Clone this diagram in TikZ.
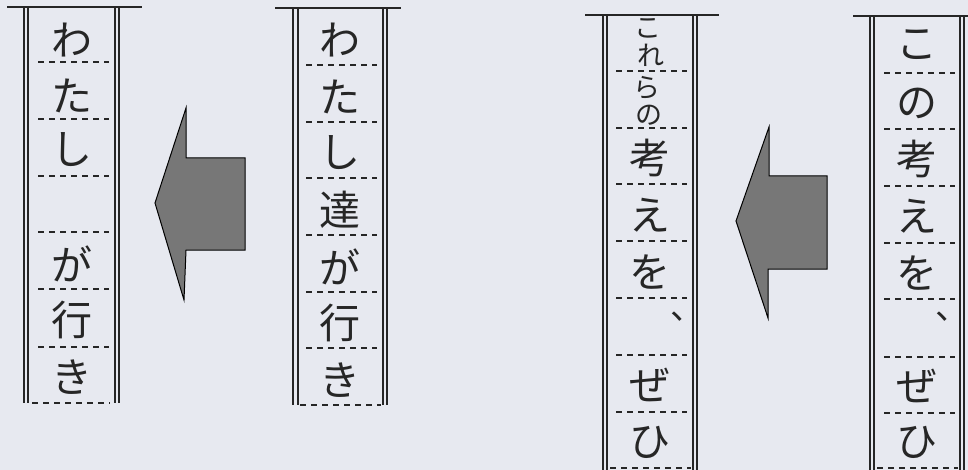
\documentclass[tikz,border=0pt]{standalone}
\usepackage{fontspec}
\newfontfamily\jp{Noto Sans CJK JP}
\definecolor{bg}{HTML}{E7E9F0}
\definecolor{ink}{HTML}{262626}
\definecolor{arrowfill}{HTML}{777777}
\begin{document}
\begin{tikzpicture}[x=1pt,y=-1pt,
  ch/.style={font=\jp\fontsize{41}{41}\selectfont, inner sep=0pt, text=ink},
  sm/.style={font=\jp\fontsize{27}{27}\selectfont, inner sep=0pt, text=ink},
  pu/.style={font=\jp\fontsize{34}{34}\selectfont, inner sep=0pt, text=ink},
  rule/.style={draw=ink, line width=1.3pt},
  dsh/.style={draw=ink, line width=1.1pt, dash pattern=on 6pt off 5pt},
  bigarrow/.style={draw=black, line width=1pt, fill=arrowfill, line join=miter}]
\fill[bg] (0,0) rectangle (968,470);
\useasboundingbox (0,0) rectangle (968,470);

% ---------- column 1 ----------
\draw[rule] (7,7) -- (142,7);
\foreach \x in {24,28,115,119} \draw[rule] (\x,7) -- (\x,403);
\foreach \y in {62,119,176,232,289,347} \draw[dsh] (38,\y) -- (109,\y);
\draw[dsh] (32,403) -- (110,403);
\node[ch] (a1) at (72,40) {わ};
\node[ch] (a2) at (72,96) {た};
\node[ch] (a3) at (72,150) {し};
\node[ch] (a5) at (72,264) {が};
\node[ch] (a6) at (72,320) {行};
\node[ch] (a7) at (72,377) {き};

% ---------- arrow 1 ----------
\draw[bigarrow] (155,203) -- (186,108) -- (186,158) -- (245,158) -- (245,250) -- (186,250) -- (184,300) -- cycle;

% ---------- column 2 ----------
\draw[rule] (275,8) -- (401,8);
\foreach \x in {293,298,383,387} \draw[rule] (\x,8) -- (\x,405);
\foreach \y in {65,122,178,235,292,348} \draw[dsh] (306,\y) -- (377,\y);
\draw[dsh] (300,405) -- (381,405);
\node[ch] (b1) at (340,40) {わ};
\node[ch] (b2) at (340,97) {た};
\node[ch] (b3) at (340,153) {し};
\node[ch] (b4) at (340,210) {達};
\node[ch] (b5) at (340,267) {が};
\node[ch] (b6) at (340,323) {行};
\node[ch] (b7) at (340,380) {き};

% ---------- column 3 ----------
\draw[rule] (585,15) -- (719,15);
\foreach \x in {603,607,693,697} \draw[rule] (\x,15) -- (\x,470);
\foreach \y in {71,128,184,241,298,355,412} \draw[dsh] (616,\y) -- (687,\y);
\draw[dsh] (610,468) -- (691,468);
\node[sm] (c1a) at (648,28) {こ};
\node[sm] (c1b) at (651,55) {れ};
\node[sm] (c2a) at (647,88) {ら};
\node[sm] (c2b) at (649,115) {の};
\node[ch] (c3) at (650,158) {考};
\node[ch] (c4) at (650,215) {え};
\node[ch] (c5) at (650,272) {を};
\node[pu] (c6) at (687,317) {、};
\node[ch] (c7) at (650,385) {ぜ};
\node[ch] (c8) at (650,442) {ひ};

% ---------- arrow 2 ----------
\draw[bigarrow] (736,221) -- (769,127) -- (769,176) -- (827,176) -- (827,269) -- (768,269) -- (768,318) -- cycle;

% ---------- column 4 ----------
\draw[rule] (853,16) -- (968,16);
\foreach \x in {870,874,960,964} \draw[rule] (\x,16) -- (\x,470);
\foreach \y in {73,129,186,243,299,357,413} \draw[dsh] (884,\y) -- (955,\y);
\draw[dsh] (877,468) -- (958,468);
\node[ch] (d1) at (917,45) {こ};
\node[ch] (d2) at (917,103) {の};
\node[ch] (d3) at (917,159) {考};
\node[ch] (d4) at (917,216) {え};
\node[ch] (d5) at (917,273) {を};
\node[pu] (d6) at (952,317) {、};
\node[ch] (d7) at (917,386) {ぜ};
\node[ch] (d8) at (917,442) {ひ};
\end{tikzpicture}
\end{document}
